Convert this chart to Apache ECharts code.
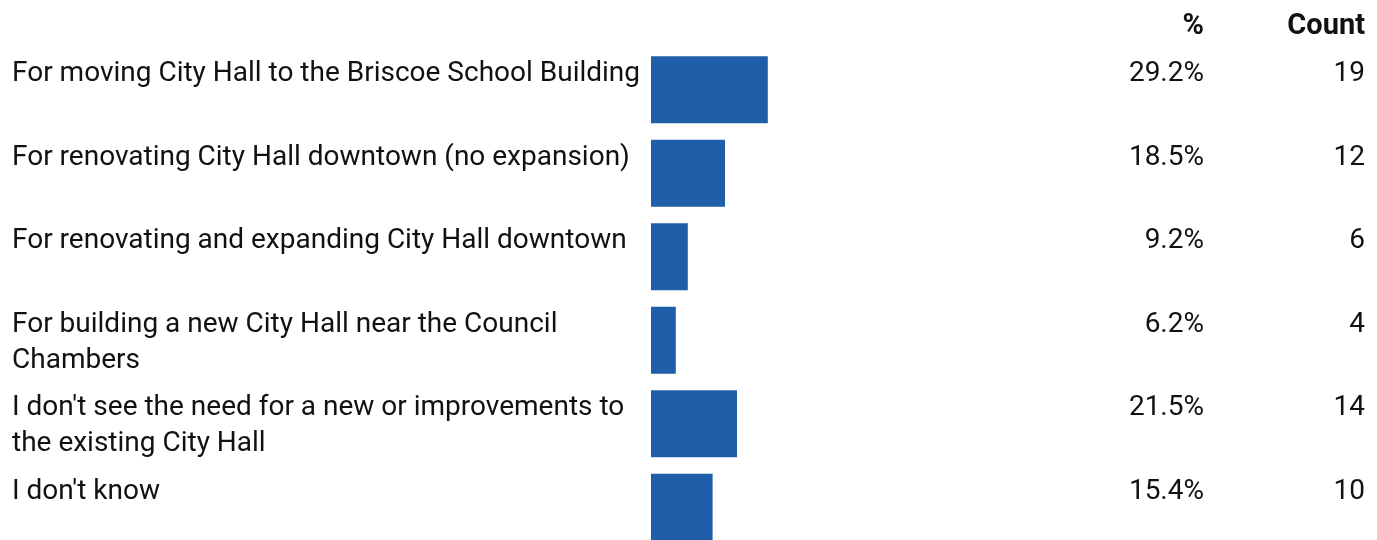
<!DOCTYPE html>
<html>
<head>
<meta charset="utf-8">
<script src="https://cdn.jsdelivr.net/npm/echarts@6/dist/echarts.min.js"></script>
<style>
  html, body { margin: 0; padding: 0; background: #fff; }
  #main { width: 1377px; height: 540px; }
</style>
</head>
<body>
<div id="main"></div>
<script>
  const categories = [
    'For moving City Hall to the Briscoe School Building',
    'For renovating City Hall downtown (no expansion)',
    'For renovating and expanding City Hall downtown',
    'For building a new City Hall near the Council Chambers',
    "I don't see the need for a new or improvements to the existing City Hall",
    "I don't know"
  ]
  const percents = [29.2, 18.5, 9.2, 6.2, 21.5, 15.4]
  const counts = [19, 12, 6, 4, 14, 10]
  const headers = ['%', 'Count']

  const fontFamily = 'Roboto, sans-serif'
  const textColor = '#111'
  const hidden = { axisLine: { show: false }, axisTick: { show: false } }

  let chart = echarts.init(document.getElementById('main'))
  let option = {
    animation: false,
    title: [
      {
        text: headers[0],
        right: 173,
        top: 12,
        padding: 0,
        textStyle: { fontFamily, fontSize: 29, fontWeight: 'bold', color: textColor }
      },
      {
        text: headers[1],
        right: 12,
        top: 12,
        padding: 0,
        textStyle: { fontFamily, fontSize: 29, fontWeight: 'bold', color: textColor }
      }
    ],
    // grid 0 holds the bars, grid 1 (shifted up by half a row's bar) holds the text columns
    grid: [
      { left: 651, top: 48, width: 400, height: 501, outerBoundsMode: 'none' },
      { left: 651, top: 14.6, width: 400, height: 501, outerBoundsMode: 'none' }
    ],
    xAxis: [
      { type: 'value', min: 0, max: 100, show: false, gridIndex: 0 },
      { type: 'value', min: 0, max: 100, show: false, gridIndex: 1 }
    ],
    yAxis: [
      {
        type: 'category',
        gridIndex: 0,
        inverse: true,
        data: categories,
        ...hidden,
        axisLabel: { show: false }
      },
      {
        type: 'category',
        gridIndex: 1,
        inverse: true,
        data: categories,
        ...hidden,
        axisLabel: {
          align: 'left',
          verticalAlign: 'top',
          margin: 639,
          width: 635,
          overflow: 'break',
          lineHeight: 36,
          fontFamily,
          fontSize: 28,
          color: textColor
        }
      },
      {
        type: 'category',
        gridIndex: 1,
        inverse: true,
        position: 'right',
        data: percents,
        ...hidden,
        axisLabel: {
          align: 'right',
          verticalAlign: 'top',
          margin: 153,
          lineHeight: 36,
          fontFamily,
          fontSize: 28,
          color: textColor,
          formatter: (v) => Number(v).toFixed(1) + '%'
        }
      },
      {
        type: 'category',
        gridIndex: 1,
        inverse: true,
        position: 'right',
        data: counts,
        ...hidden,
        axisLabel: {
          align: 'right',
          verticalAlign: 'top',
          margin: 314,
          lineHeight: 36,
          fontFamily,
          fontSize: 28,
          color: textColor
        }
      }
    ],
    series: [
      {
        type: 'bar',
        xAxisIndex: 0,
        yAxisIndex: 0,
        data: percents,
        barCategoryGap: '20%',
        itemStyle: { color: '#1f5fa9' },
        silent: true
      }
    ]
  }
  chart.setOption(option)
  window.onresize = () => chart.resize()
</script>
</body>
</html>
